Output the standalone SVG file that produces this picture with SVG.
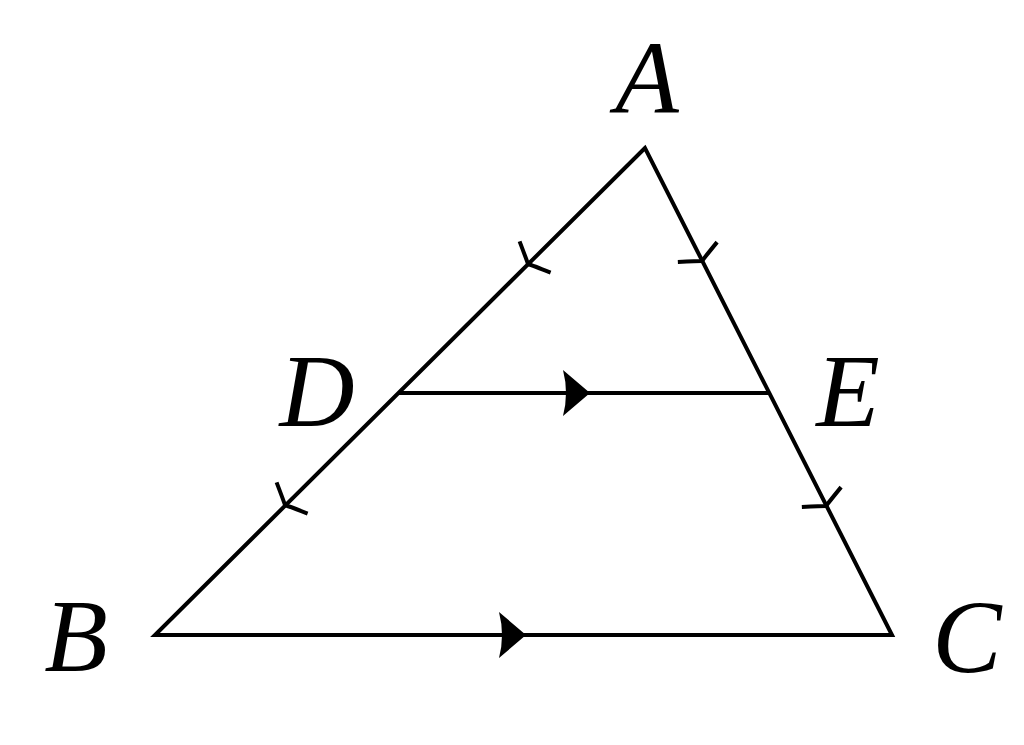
<svg xmlns="http://www.w3.org/2000/svg" width="1024" height="745" viewBox="0 0 1024 745">
  <style>
    .edge { stroke: #000; stroke-width: 4; fill: none; stroke-linecap: butt; stroke-linejoin: miter; }
    .tick { stroke: #000; stroke-width: 4; fill: none; stroke-linecap: butt; stroke-linejoin: round; }
    .head { fill: #000; stroke: none; }
    .lbl { font-family: "Liberation Serif", "DejaVu Serif", serif; font-style: italic; font-size: 104px; fill: #000; text-anchor: middle; }
  </style>
  <defs>
    <path id="openTip" class="tick" d="M -10,-22 Q -2,-4 0,0 Q -2,4 -10,22"/>
    <path id="fillTip" class="head" d="M 1,0 L -26,-23 Q -20,0 -26,23 Z"/>
  </defs>
  <rect width="1024" height="745" fill="#fff"/>
  <g id="connectors">
    <path class="edge" d="M 645,148 L 155,635 L 892,635 Z"/>
    <line class="edge" x1="399" y1="393" x2="768" y2="393"/>
    <use href="#openTip" transform="translate(528,264) rotate(135.2)"/>
    <use href="#openTip" transform="translate(285,505) rotate(135.2)"/>
    <use href="#openTip" transform="translate(702,261) rotate(63.1)"/>
    <use href="#openTip" transform="translate(826,506) rotate(63.1)"/>
    <use href="#fillTip" transform="translate(589,393)"/>
    <use href="#fillTip" transform="translate(525,635)"/>
  </g>
  <g id="A"><text class="lbl" x="647" y="113">A</text></g>
  <g id="B"><text class="lbl" x="76" y="671">B</text></g>
  <g id="C"><text class="lbl" x="967" y="672">C</text></g>
  <g id="D"><text class="lbl" x="317" y="426">D</text></g>
  <g id="E"><text class="lbl" x="848" y="426">E</text></g>
</svg>
